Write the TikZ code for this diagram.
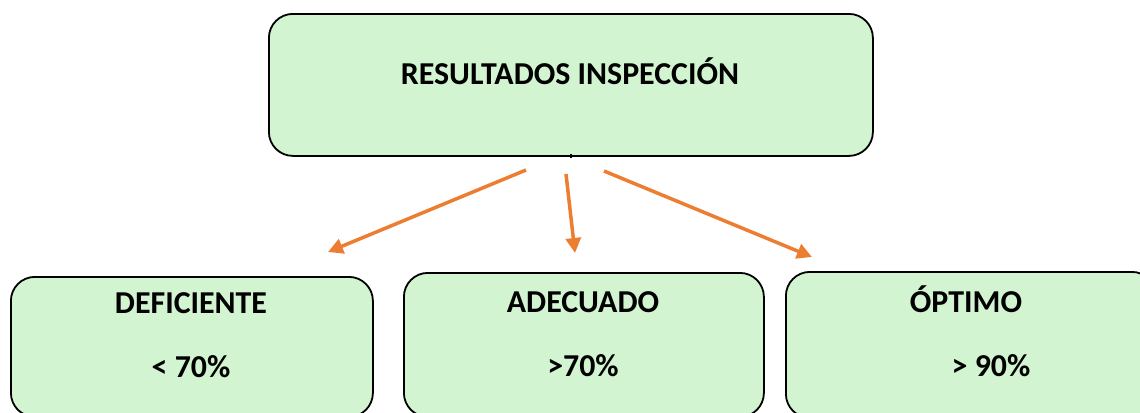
\documentclass[tikz,border=0pt]{standalone}
\usepackage{fontspec}
\setmainfont{Carlito}
\usetikzlibrary{arrows.meta}
\definecolor{boxfill}{RGB}{210,244,208}
\definecolor{arrorange}{RGB}{237,125,49}
\tikzset{
  box/.style={draw=black, line width=1.8bp, fill=boxfill, rounded corners=24bp, inner sep=0pt, anchor=north west},
  lbl/.style={font=\fontsize{32}{38}\selectfont\bfseries, anchor=base, inner sep=0pt},
  arr/.style={draw=arrorange, line width=3.5bp, -{Triangle[length=15bp,width=15bp]}}
}
\begin{document}
\begin{tikzpicture}[x=1bp,y=-1bp]
\useasboundingbox (0,0) rectangle (1140,412);
\begin{scope}
\clip (0,0) rectangle (1140,412);
\node[box, minimum width=604bp, minimum height=142bp] (top) at (268,13) {};
\node[box, minimum width=362bp, minimum height=140bp] (b1) at (10,276) {};
\node[box, minimum width=360bp, minimum height=144bp] (b2) at (403,272) {};
\node[box, minimum width=370bp, minimum height=146bp] (b3) at (785,271) {};
\end{scope}
\node[lbl] (ttop) at (570,84) {RESULTADOS INSPECCIÓN};
\node[lbl] (t1a) at (191,313) {DEFICIENTE};
\node[lbl] (t1b) at (191,377) {< 70\%};
\node[lbl] (t2a) at (583,312) {ADECUADO};
\node[lbl] (t2b) at (583,376) {>70\%};
\node[lbl] (t3a) at (966,312) {ÓPTIMO};
\node[lbl] (t3b) at (991,376) {> 90\%};
\coordinate (stubtop) at (571,154);
\coordinate (stub) at (571,158);
\draw[line width=2.5bp] (stubtop) -- (stub);
\coordinate (a1s) at (526,170);
\coordinate (a1e) at (328,252);
\coordinate (a2s) at (566,174);
\coordinate (a2e) at (575,253);
\coordinate (a3s) at (604,171);
\coordinate (a3e) at (812,257);
\draw[arr] (a1s) -- (a1e);
\draw[arr] (a2s) -- (a2e);
\draw[arr] (a3s) -- (a3e);
\end{tikzpicture}
\end{document}
